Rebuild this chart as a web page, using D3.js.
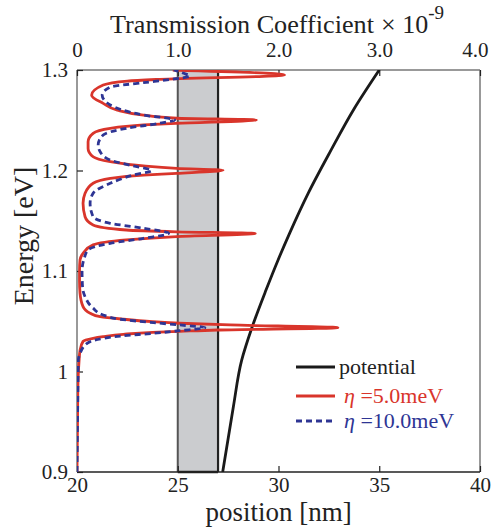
<!DOCTYPE html>
<html>
<head>
<script src="https://cdnjs.cloudflare.com/ajax/libs/d3/7.8.5/d3.min.js"></script>
<style>
  body { margin: 0; background: #fff; }
  svg { font-family: 'Liberation Serif', 'Times New Roman', serif; }
</style>
</head>
<body>
<script>
// tick labels
var posTicks = [20, 25, 30, 35, 40];
var transTicks = [0, 1, 2, 3, 4];
var energyTicks = [0.9, 1.0, 1.1, 1.2, 1.3];

// barrier region [nm]
var barrier = [25, 27];

// potential: [energy eV, position nm]
var potential = [
  [0.900, 27.23], [0.965, 27.76], [1.011, 28.17], [1.043, 28.67],
  [1.081, 29.38], [1.111, 29.98], [1.138, 30.56], [1.178, 31.49],
  [1.220, 32.60], [1.260, 33.71], [1.300, 35.00]
];

// transmission, eta = 5.0 meV: [energy eV, T x1e-9]
var eta5 = [
  [0.900, 0.00], [0.950, 0.005], [0.990, 0.01], [1.010, 0.02], [1.021, 0.03],
  [1.030, 0.06], [1.033, 0.16], [1.0346, 0.26], [1.037, 0.46], [1.039, 0.75],
  [1.040, 1.02], [1.0413, 1.39], [1.0436, 2.59], [1.0463, 1.52], [1.048, 1.02],
  [1.0496, 0.75], [1.052, 0.46], [1.0545, 0.23], [1.058, 0.13], [1.0645, 0.06],
  [1.078, 0.03], [1.090, 0.025], [1.100, 0.025], [1.111, 0.03], [1.1176, 0.06],
  [1.126, 0.16], [1.131, 0.49], [1.1343, 0.99], [1.1373, 1.77], [1.139, 0.99],
  [1.1408, 0.49], [1.1458, 0.16], [1.154, 0.08], [1.1674, 0.06], [1.1773, 0.08],
  [1.1873, 0.16], [1.1922, 0.33], [1.1955, 0.66], [1.1972, 0.99], [1.2003, 1.45],
  [1.2022, 0.99], [1.2045, 0.66], [1.2088, 0.33], [1.2137, 0.16], [1.222, 0.11],
  [1.2287, 0.11], [1.237, 0.16], [1.242, 0.33], [1.2453, 0.66], [1.247, 0.99],
  [1.2503, 1.78], [1.252, 0.99], [1.255, 0.66], [1.260, 0.40], [1.2668, 0.26],
  [1.275, 0.145], [1.285, 0.26], [1.289, 0.50], [1.2907, 0.82], [1.295, 2.06],
  [1.300, 0.95]
];

// transmission, eta = 10.0 meV
var eta10 = [
  [0.900, 0.00], [0.950, 0.005], [0.990, 0.01], [1.011, 0.013], [1.018, 0.03],
  [1.028, 0.10], [1.033, 0.26], [1.0353, 0.43], [1.038, 0.76], [1.0406, 1.02],
  [1.0436, 1.27], [1.0463, 1.02], [1.0486, 0.76], [1.052, 0.43], [1.0562, 0.26],
  [1.063, 0.16], [1.0744, 0.08], [1.084, 0.055], [1.100, 0.05], [1.112, 0.07],
  [1.121, 0.11], [1.1276, 0.33], [1.1325, 0.66], [1.1375, 0.91], [1.1425, 0.66],
  [1.1475, 0.33], [1.154, 0.16], [1.1674, 0.13], [1.1773, 0.16], [1.1873, 0.33],
  [1.1955, 0.56], [1.2000, 0.74], [1.2045, 0.56], [1.2104, 0.33], [1.2187, 0.23],
  [1.2254, 0.21], [1.2353, 0.26], [1.242, 0.49], [1.247, 0.82], [1.2503, 0.97],
  [1.2552, 0.66], [1.2652, 0.33], [1.275, 0.25], [1.283, 0.33], [1.2874, 0.66],
  [1.2905, 0.92], [1.294, 1.12], [1.297, 1.05], [1.300, 0.96]
];

var W = 492, H = 531;
var L = 77, R = 480, T = 70, B = 472;
var red = "#d9352b", blue = "#2e3594";

var svg = d3.select("body").append("svg").attr("width", W).attr("height", H);

var x = d3.scaleLinear().domain([20, 40]).range([L, R]);
var xt = d3.scaleLinear().domain([0, 4]).range([L, R]);
var y = d3.scaleLinear().domain([0.9, 1.3]).range([B, T]);

svg.append("clipPath").attr("id", "plot")
  .append("rect").attr("x", L).attr("y", T).attr("width", R - L).attr("height", B - T);

// barrier
svg.append("rect")
  .attr("x", x(barrier[0])).attr("y", T)
  .attr("width", x(barrier[1]) - x(barrier[0])).attr("height", B - T)
  .attr("fill", "#cbcccf");
svg.append("line").attr("x1", x(barrier[0])).attr("x2", x(barrier[0]))
  .attr("y1", T).attr("y2", B).attr("stroke", "#555").attr("stroke-width", 2);
svg.append("line").attr("x1", x(barrier[1])).attr("x2", x(barrier[1]))
  .attr("y1", T).attr("y2", B).attr("stroke", "#222").attr("stroke-width", 2.2);
svg.append("line").attr("x1", x(barrier[0])).attr("x2", x(barrier[1]))
  .attr("y1", B).attr("y2", B).attr("stroke", "#222").attr("stroke-width", 2.5);

// frame
var frame = svg.append("g");
frame.append("line").attr("x1", L).attr("x2", R).attr("y1", T).attr("y2", T).attr("stroke", "#777").attr("stroke-width", 1.5);
frame.append("line").attr("x1", L).attr("x2", L).attr("y1", T).attr("y2", B).attr("stroke", "#777").attr("stroke-width", 1.5);
frame.append("line").attr("x1", R).attr("x2", R).attr("y1", T).attr("y2", B).attr("stroke", "#777").attr("stroke-width", 1.5);
frame.append("line").attr("x1", L).attr("x2", R).attr("y1", B).attr("y2", B).attr("stroke", "#222").attr("stroke-width", 1.5);

// axes
var axB = svg.append("g").attr("transform", "translate(0," + B + ")")
  .call(d3.axisBottom(x).tickValues(posTicks).tickSizeInner(-6).tickSizeOuter(0).tickPadding(5));
var axT = svg.append("g").attr("transform", "translate(0," + T + ")")
  .call(d3.axisTop(xt).tickValues(transTicks).tickSizeInner(-6).tickSizeOuter(0).tickPadding(13)
    .tickFormat(function(d) { return d === 0 ? "0" : d3.format(".1f")(d); }));
var axL = svg.append("g").attr("transform", "translate(" + L + ",0)")
  .call(d3.axisLeft(y).tickValues(energyTicks).tickSizeInner(-6).tickSizeOuter(0).tickPadding(9)
    .tickFormat(function(d) { return d === 1 ? "1" : d3.format(".1f")(d); }));
[axB, axT, axL].forEach(function(a) {
  a.select(".domain").remove();
  a.selectAll(".tick line").attr("stroke", "#222").attr("stroke-width", 1.2);
  a.selectAll(".tick text").attr("font-size", 21).attr("fill", "#222")
    .attr("font-family", "'Liberation Serif', 'Times New Roman', serif");
});
// last top label sits inside the canvas edge
axT.selectAll(".tick text").filter(function(d) { return d === 4; })
  .attr("text-anchor", "end").attr("x", 8);

// curves
var plot = svg.append("g").attr("clip-path", "url(#plot)");

var tLine = d3.line().x(function(d) { return xt(d[1]); }).y(function(d) { return y(d[0]); })
  .curve(d3.curveMonotoneY);
var pLine = d3.line().x(function(d) { return x(d[1]); }).y(function(d) { return y(d[0]); })
  .curve(d3.curveMonotoneY);

plot.append("path").datum(potential).attr("d", pLine)
  .attr("fill", "none").attr("stroke", "#1a1a1a").attr("stroke-width", 2.8);
plot.append("path").datum(eta5).attr("d", tLine)
  .attr("fill", "none").attr("stroke", red).attr("stroke-width", 2.8).attr("stroke-linejoin", "round");
plot.append("path").datum(eta10).attr("d", tLine)
  .attr("fill", "none").attr("stroke", blue).attr("stroke-width", 2.8)
  .attr("stroke-dasharray", "6,4");

// titles - fit the top title to the span it takes in the figure
var title = svg.append("text").attr("x", 110).attr("y", 33).attr("font-size", 26).attr("fill", "#222")
  .text("Transmission Coefficient");
var tw = title.node().getComputedTextLength();
title.attr("font-size", 26 * 264 / tw);
var sci = svg.append("text").attr("x", 381).attr("y", 33).attr("font-size", 26).attr("fill", "#222");
sci.append("tspan").text("\u00d7 10");
sci.append("tspan").attr("dy", -14).attr("font-size", 19).text("-9");

svg.append("text").attr("x", (L + R) / 2).attr("y", 521).attr("text-anchor", "middle")
  .attr("font-size", 27).attr("fill", "#222").text("position [nm]");
svg.append("text").attr("transform", "translate(33,236) rotate(-90)").attr("text-anchor", "middle")
  .attr("font-size", 28).attr("fill", "#222").text("Energy [eV]");

// legend
var legend = [
  { label: "potential", color: "#1a1a1a", dash: null, y: 367, eta: false },
  { label: " =5.0meV", color: red, dash: null, y: 396, eta: true },
  { label: " =10.0meV", color: blue, dash: "6,4", y: 421, eta: true }
];
var lg = svg.append("g").selectAll("g").data(legend).enter().append("g");
lg.append("line").attr("x1", 296).attr("x2", 335)
  .attr("y1", function(d) { return d.y; }).attr("y2", function(d) { return d.y; })
  .attr("stroke", function(d) { return d.color; }).attr("stroke-width", 2.8)
  .attr("stroke-dasharray", function(d) { return d.dash; });
var lt = lg.append("text").attr("x", function(d) { return d.eta ? 344 : 339; })
  .attr("y", function(d) { return d.y + 7; })
  .attr("font-size", 22).attr("fill", function(d) { return d.eta ? d.color : "#222"; });
lt.filter(function(d) { return d.eta; }).append("tspan").attr("font-style", "italic").text("\u03b7");
lt.append("tspan").text(function(d) { return d.label; });
</script>
</body>
</html>
